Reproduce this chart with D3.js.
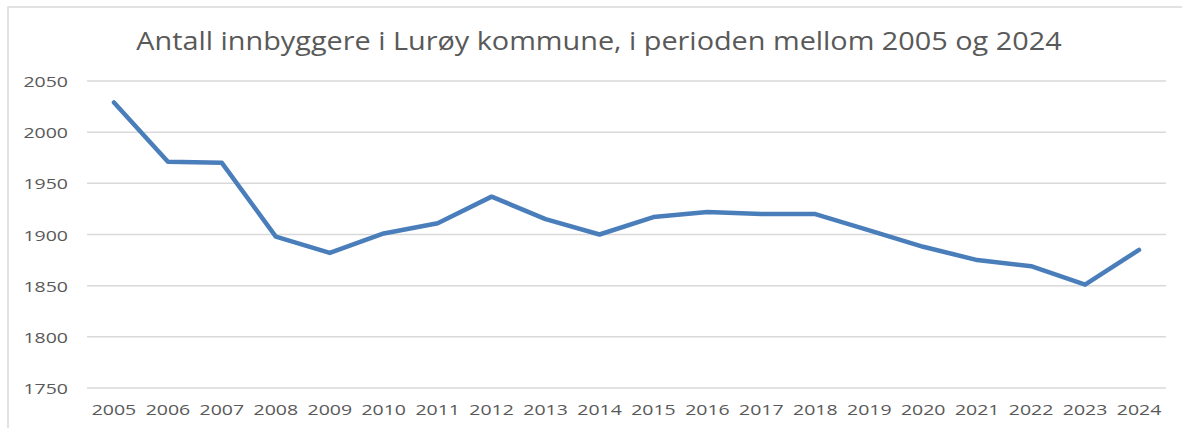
<!DOCTYPE html>
<html>
<head>
<meta charset="utf-8">
<script src="https://cdn.jsdelivr.net/npm/d3@7"></script>
<style>
  body { margin: 0; background: #ffffff; overflow: hidden; }
  text { font-family: "Open Sans", "Noto Sans", sans-serif; fill: #595959; }
</style>
</head>
<body>
<script>
//Chart data.
var years = ["2005", "2006", "2007", "2008", "2009", "2010", "2011", "2012", "2013", "2014",
             "2015", "2016", "2017", "2018", "2019", "2020", "2021", "2022", "2023", "2024"];
var residents = [2029, 1971, 1970, 1898, 1882, 1901, 1911, 1937, 1915, 1900,
                 1917, 1922, 1920, 1920, 1904, 1888, 1875, 1869, 1851, 1885];
var yTicks = [1750, 1800, 1850, 1900, 1950, 2000, 2050];
var chartTitle = "Antall innbyggere i Lurøy kommune, i perioden mellom 2005 og 2024";

//Sizes.
var width = 1182;
var height = 428;
var plotLeft = 87;
var plotRight = 1166;
var plotTop = 81;
var plotBottom = 388;

//Stretch of the text (the picture is a little wider than tall).
var textStretch = 1.3;

var svg = d3.select("body").append("svg").attr("width", width).attr("height", height);

//Outer frame, runs off the right and bottom edge.
svg.append("rect")
   .attr("x", 8).attr("y", 7)
   .attr("width", width + 20).attr("height", height + 20)
   .attr("fill", "none")
   .attr("stroke", "#d9d9d9")
   .attr("stroke-width", 1.5);

//Scales.
var xScale = d3.scaleBand().domain(years).range([plotLeft, plotRight]);
var yScale = d3.scaleLinear().domain([1750, 2050]).range([plotBottom, plotTop]);

//Gridlines.
svg.append("g").selectAll("line")
   .data(yTicks)
   .enter().append("line")
   .attr("x1", plotLeft).attr("x2", plotRight)
   .attr("y1", function(d) { return yScale(d); })
   .attr("y2", function(d) { return yScale(d); })
   .attr("stroke", "#d9d9d9")
   .attr("stroke-width", 1.5);

//Y axis labels.
svg.append("g").selectAll("text")
   .data(yTicks)
   .enter().append("text")
   .attr("text-anchor", "end")
   .attr("font-size", 15)
   .attr("transform", function(d) { return "translate(68," + (yScale(d) + 6) + ") scale(" + textStretch + ",1)"; })
   .text(function(d) { return d; });

//X axis labels.
svg.append("g").selectAll("text")
   .data(years)
   .enter().append("text")
   .attr("text-anchor", "middle")
   .attr("font-size", 15)
   .attr("transform", function(d) { return "translate(" + (xScale(d) + xScale.bandwidth() / 2) + ",415) scale(" + textStretch + ",1)"; })
   .text(function(d) { return d; });

//Data line.
var line = d3.line()
   .x(function(d, i) { return xScale(years[i]) + xScale.bandwidth() / 2; })
   .y(function(d) { return yScale(d); });

svg.append("path")
   .datum(residents)
   .attr("d", line)
   .attr("fill", "none")
   .attr("stroke", "#4a7ebb")
   .attr("stroke-width", 4.5)
   .attr("stroke-linejoin", "round")
   .attr("stroke-linecap", "round");

//Title, stretched to the same width as in the picture.
var title = svg.append("text")
   .attr("text-anchor", "middle")
   .attr("font-size", 25)
   .text(chartTitle);
var titleLength = title.node().getComputedTextLength();
title.attr("transform", "translate(599,50) scale(" + (926 / titleLength) + ",1)");
</script>
</body>
</html>
